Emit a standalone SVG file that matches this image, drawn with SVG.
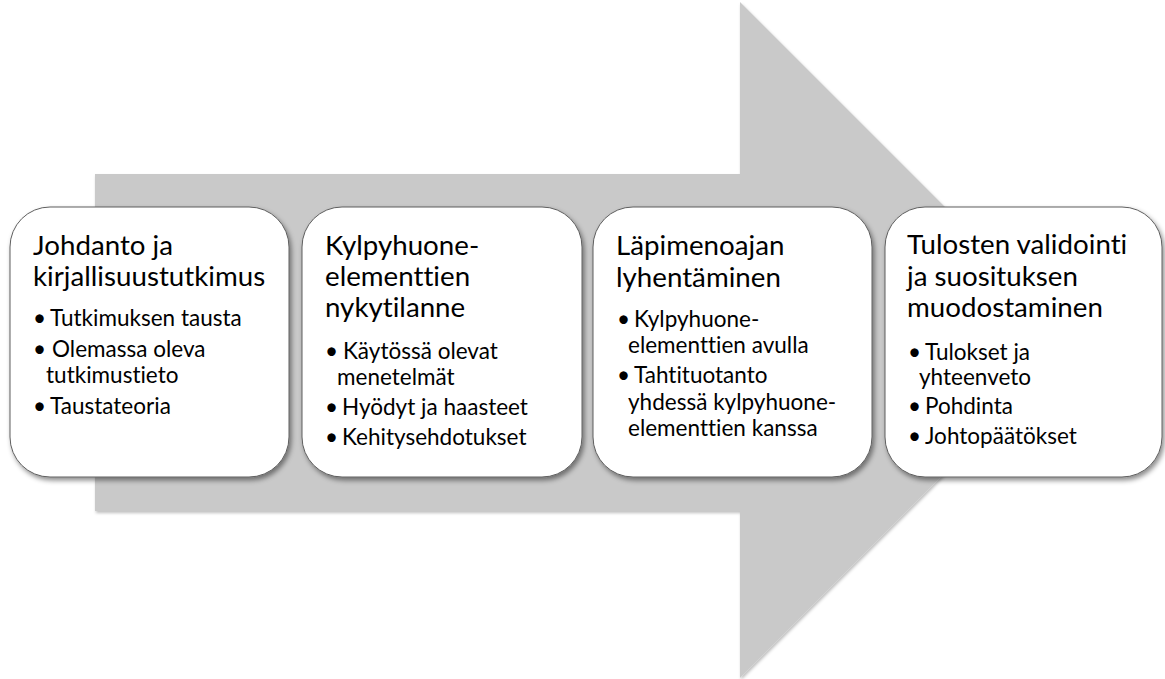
<svg xmlns="http://www.w3.org/2000/svg" width="1165" height="679" viewBox="0 0 1165 679">
  <defs>
    <filter id="boxShadow" x="-10%" y="-10%" width="125%" height="130%">
      <feDropShadow dx="2" dy="3" stdDeviation="2.5" flood-color="#000" flood-opacity="0.45"/>
    </filter>
    <filter id="arrowShadow" x="-5%" y="-5%" width="110%" height="110%">
      <feDropShadow dx="1" dy="2" stdDeviation="1.5" flood-color="#000" flood-opacity="0.25"/>
    </filter>
  </defs>
  <style>
    .box { fill: #ffffff; stroke: #5f5f5f; stroke-width: 1; filter: url(#boxShadow); }
    text { font-family: Lato, "Liberation Sans", sans-serif; fill: #000; font-variant-ligatures: none; font-feature-settings: "liga" 0, "clig" 0, "dlig" 0, "calt" 0; letter-spacing: 0.01px; }
    .title { font-size: 27.7px; }
    .item { font-size: 22.5px; }
  </style>
  <rect width="1165" height="679" fill="#ffffff"/>

  <g id="arrow-background">
    <polygon points="95,174 740,174 740,2 1078,340 740,678 740,511 95,511" fill="#c9c9c9" filter="url(#arrowShadow)"/>
  </g>

  <g id="connectors"></g>

  <g id="node-1">
    <rect class="box" x="10" y="207" width="279" height="270" rx="40" ry="40"/>
    <text class="title" x="33" y="255">Johdanto ja</text>
    <text class="title" x="33" y="286">kirjallisuustutkimus</text>
    <text class="item" x="33" y="326">•</text>
    <text class="item" x="50" y="326">Tutkimuksen tausta</text>
    <text class="item" x="33" y="357">•</text>
    <text class="item" x="52" y="357">Olemassa oleva</text>
    <text class="item" x="46" y="383">tutkimustieto</text>
    <text class="item" x="33" y="414">•</text>
    <text class="item" x="50" y="414">Taustateoria</text>
  </g>

  <g id="node-2">
    <rect class="box" x="302" y="207" width="280" height="270" rx="40" ry="40"/>
    <text class="title" x="325" y="255">Kylpyhuone-</text>
    <text class="title" x="325" y="286">elementtien</text>
    <text class="title" x="325" y="317">nykytilanne</text>
    <text class="item" x="325" y="359">•</text>
    <text class="item" x="343" y="359">Käytössä olevat</text>
    <text class="item" x="337" y="385">menetelmät</text>
    <text class="item" x="325" y="415">•</text>
    <text class="item" x="342" y="415">Hyödyt ja haasteet</text>
    <text class="item" x="325" y="445">•</text>
    <text class="item" x="342" y="445">Kehitysehdotukset</text>
  </g>

  <g id="node-3">
    <rect class="box" x="593" y="207" width="279" height="270" rx="40" ry="40"/>
    <text class="title" x="616" y="255">Läpimenoajan</text>
    <text class="title" x="616" y="286.5">lyhentäminen</text>
    <text class="item" x="617" y="326.5">•</text>
    <text class="item" x="634" y="326.5">Kylpyhuone-</text>
    <text class="item" x="628" y="353">elementtien avulla</text>
    <text class="item" x="617" y="383">•</text>
    <text class="item" x="634" y="383">Tahtituotanto</text>
    <text class="item" x="628" y="410">yhdessä kylpyhuone-</text>
    <text class="item" x="628" y="436">elementtien kanssa</text>
  </g>

  <g id="node-4">
    <rect class="box" x="885" y="207" width="277" height="270" rx="40" ry="40"/>
    <text class="title" x="907" y="254">Tulosten validointi</text>
    <text class="title" x="907" y="286">ja suosituksen</text>
    <text class="title" x="907" y="317">muodostaminen</text>
    <text class="item" x="908" y="360">•</text>
    <text class="item" x="925" y="360">Tulokset ja</text>
    <text class="item" x="919" y="385">yhteenveto</text>
    <text class="item" x="908" y="414">•</text>
    <text class="item" x="925" y="414">Pohdinta</text>
    <text class="item" x="908" y="444">•</text>
    <text class="item" x="925" y="444">Johtopäätökset</text>
  </g>
</svg>
